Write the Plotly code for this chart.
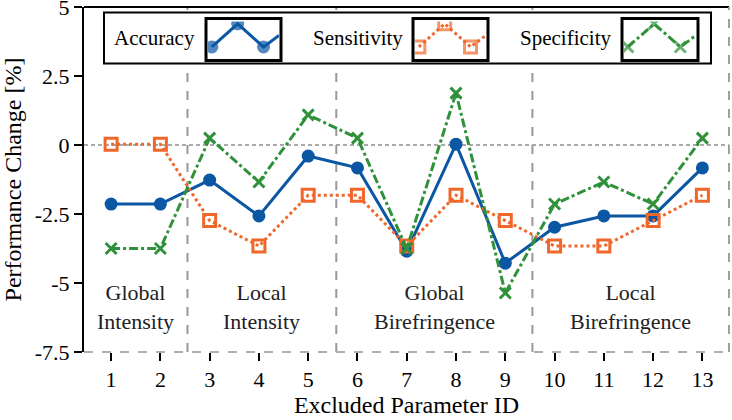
import plotly.graph_objects as go

param_ids = list(range(1, 14))
accuracy = [-2.14, -2.14, -1.27, -2.57, -0.40, -0.83, -3.85, 0.03, -4.28, -2.98, -2.57, -2.57, -0.83]
sensitivity = [0.03, 0.03, -2.74, -3.66, -1.82, -1.82, -3.66, -1.82, -2.74, -3.66, -3.66, -2.74, -1.82]
specificity = [-3.75, -3.75, 0.25, -1.34, 1.09, 0.25, -3.75, 1.88, -5.36, -2.14, -1.34, -2.14, 0.25]
series_names = ["Accuracy", "Sensitivity", "Specificity"]
group_labels = ["Global<br>Intensity", "Local<br>Intensity", "Global<br>Birefringence", "Local<br>Birefringence"]
group_centers = [1.5, 4.06, 7.56, 11.55]
group_bounds = [2.55, 5.57, 9.55]
y_ticks = [5, 2.5, 0, -2.5, -5, -7.5]
y_ticklabels = ["5", "2.5", "0", "-2.5", "-5", "-7.5"]
icon_x = [0, 1, 2, 2.6]
icon_y = [0, 1, 0, 0.5]

BLUE = "#0b57a4"
ORANGE = "#f0672a"
GREEN = "#2f913a"
FONT = "Liberation Serif, 'Times New Roman', serif"

W, H = 732, 420
L, R, T, B = 84, 3, 7, 68
PW, PH = W - L - R, H - T - B


def px(x):
    return (x - L) / PW


def py(y):
    return (H - B - y) / PH


styles = [
    dict(color=BLUE, dash="solid", symbol="circle", msize=13, mline=dict(width=0)),
    dict(color=ORANGE, dash="dot", symbol="square-open", msize=12, mline=dict(width=3, color=ORANGE)),
    dict(color=GREEN, dash="dashdot", symbol="x-thin-open", msize=11, mline=dict(width=3, color=GREEN)),
]
values = [accuracy, sensitivity, specificity]

fig = go.Figure()
for name, vals, st in zip(series_names, values, styles):
    fig.add_trace(go.Scatter(
        x=param_ids, y=vals, name=name, mode="lines+markers",
        line=dict(color=st["color"], width=3, dash=st["dash"]),
        marker=dict(symbol=st["symbol"], size=st["msize"], color=st["color"], line=st["mline"]),
        showlegend=False, cliponaxis=False,
    ))

# legend icon boxes (pixel coordinates of inner area)
icon_boxes = [(208, 279), (415, 486), (624, 696)]
for i, (st, (x0, x1)) in enumerate(zip(styles, icon_boxes)):
    ax = i + 2
    fig.add_trace(go.Scatter(
        x=icon_x, y=icon_y, mode="lines+markers", xaxis=f"x{ax}", yaxis=f"y{ax}",
        line=dict(color=st["color"], width=3, dash=st["dash"]),
        marker=dict(symbol=st["symbol"], size=[st["msize"]] * 3 + [0], color=st["color"], line=st["mline"]),
        showlegend=False, hoverinfo="skip", cliponaxis=True,
    ))
    fig.update_layout(**{
        f"xaxis{ax}": dict(domain=[px(x0), px(x1)], range=[-0.15, 2.6], visible=False, anchor=f"y{ax}", automargin=False),
        f"yaxis{ax}": dict(domain=[py(58.5), py(21.5)], range=[-0.5, 1.1], visible=False, anchor=f"x{ax}", automargin=False),
    })

shapes = []
# frame
shapes.append(dict(type="line", xref="paper", yref="paper", x0=0, x1=1, y0=1, y1=1, line=dict(color="black", width=2)))
shapes.append(dict(type="line", xref="paper", yref="paper", x0=1, x1=1, y0=0, y1=1, line=dict(color="#a0a0a0", width=2, dash="dash")))
shapes.append(dict(type="line", xref="paper", yref="paper", x0=0, x1=1, y0=0, y1=0, line=dict(color="#b0b0b0", width=2, dash="dash")))
# zero line
shapes.append(dict(type="line", xref="paper", yref="y", x0=0, x1=1, y0=0, y1=0, line=dict(color="#555555", width=1, dash="4px,3px"), layer="below"))
# group separators
for gb in group_bounds:
    shapes.append(dict(type="line", xref="x", yref="paper", x0=gb, x1=gb, y0=0, y1=1, line=dict(color="#999999", width=2, dash="dash"), layer="below"))
# legend outer box
shapes.append(dict(type="rect", xref="paper", yref="paper", x0=px(104), x1=px(711), y0=py(63.5), y1=py(12.5),
                   line=dict(color="black", width=2), fillcolor="white", layer="below"))
# icon boxes
for (x0, x1) in icon_boxes:
    shapes.append(dict(type="rect", xref="paper", yref="paper", x0=px(x0 - 2), x1=px(x1 + 2), y0=py(60.5), y1=py(18.5),
                       line=dict(color="black", width=3)))

annotations = []
for lbl, cx in zip(series_names, [154, 358, 565.5]):
    annotations.append(dict(text=lbl, xref="paper", yref="paper", x=px(cx), y=py(38), showarrow=False,
                            xanchor="center", yanchor="middle", font=dict(family=FONT, size=21, color="black")))
for lbl, cx in zip(group_labels, group_centers):
    annotations.append(dict(text=lbl, xref="x", yref="paper", x=cx, y=py(307), showarrow=False,
                            xanchor="center", yanchor="middle", font=dict(family=FONT, size=22, color="#222222")))

fig.update_layout(
    width=W, height=H,
    margin=dict(l=L, r=R, t=T, b=B, autoexpand=False),
    paper_bgcolor="white", plot_bgcolor="white",
    font=dict(family=FONT, size=22, color="black"),
    xaxis=dict(range=[0.45, 13.54], tickvals=param_ids, ticktext=[str(p) for p in param_ids],
               showgrid=False, zeroline=False, showline=False, ticks="outside", ticklen=8, tickwidth=2,
               tickcolor="black", title=dict(text="Excluded Parameter ID", font=dict(size=24), standoff=2),
               tickfont=dict(size=22), automargin=False),
    yaxis=dict(range=[-7.5, 5], tickvals=y_ticks, ticktext=y_ticklabels, showgrid=False, zeroline=False,
               showline=True, linecolor="black", linewidth=2, ticks="outside", ticklen=8, tickwidth=2,
               tickcolor="black", title=dict(text="Performance Change [%]", font=dict(size=24), standoff=9),
               tickfont=dict(size=22), automargin=True, ticklabeloverflow="allow"),
    shapes=shapes, annotations=annotations,
)

fig.write_html("out.html", config={"displayModeBar": False},
               post_script="document.body.style.margin='0';document.body.style.overflow='hidden';")
